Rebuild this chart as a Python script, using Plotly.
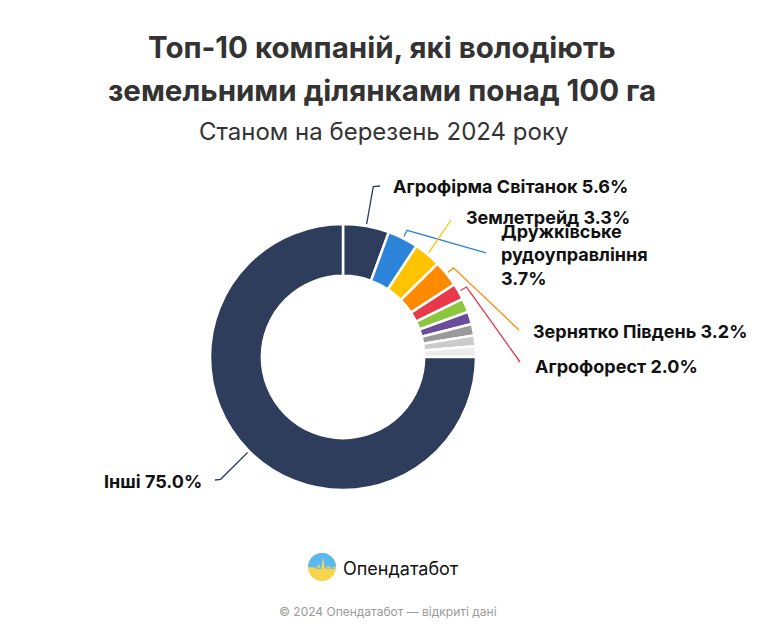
import math
import plotly.graph_objects as go

# the page body adds an 8px margin, so the figure is drawn 8px in from the corner
OFF = 8
W, H = 764 - 2 * OFF, 637 - 2 * OFF

# data
companies = ["Агрофірма Світанок", "Дружківське рудоуправління", "Землетрейд",
             "Зернятко Південь", "Агрофорест", "Компанія 6", "Компанія 7",
             "Компанія 8", "Компанія 9", "Компанія 10", "Інші"]
shares = [5.6, 3.7, 3.3, 3.2, 2.0, 1.7, 1.5, 1.4, 1.3, 1.3, 75.0]
colors = ["#2e3d5c", "#2b84da", "#ffc300", "#ff8a00", "#e8384a", "#8cc63f",
          "#6b4c9a", "#9a9a9a", "#cbcbcb", "#ececec", "#2e3d5c"]

# label layout: index, text, elbow length, end point px, text pos px, anchor
labels = [
    (0, "Агрофірма Світанок 5.6%", 38, (380, 186), (391, 187), "left"),
    (1, "Дружківське<br>рудоуправління<br>3.7%", 7, (486, 253), (499, 255), "left"),
    (2, "Землетрейд 3.3%", 0, (451, 220), (464, 218), "left"),
    (3, "Зернятко Південь 3.2%", 7, (519, 330), (531, 331), "left"),
    (4, "Агрофорест 2.0%", 7, (520, 362), (533, 366), "left"),
    (10, "Інші 75.0%", 38, (215, 480), (204, 481), "right"),
]

CX, CY, R = 343, 357, 133
HOLE = 0.61
FONT = "Inter"


def px(x):
    return (x - OFF) / W


def py(y):
    return 1 - (y - OFF) / H


fig = go.Figure(go.Pie(
    labels=companies, values=shares, sort=False, direction="clockwise",
    rotation=0, hole=HOLE, textinfo="none", hoverinfo="label+percent",
    marker=dict(colors=colors, line=dict(color="white", width=2.5)),
    domain=dict(x=[px(CX - R), px(CX + R)], y=[py(CY + R), py(CY - R)]),
    showlegend=False,
))

total = sum(shares)
starts = []
acc = 0
for v in shares:
    starts.append(acc)
    acc += v

shapes = []
annotations = []
for idx, text, elb, end, tpos, anchor in labels:
    mid = (starts[idx] + shares[idx] / 2) / total * 2 * math.pi
    dx, dy = math.sin(mid), -math.cos(mid)
    sx, sy = CX + (R + 2) * dx, CY + (R + 2) * dy
    ex, ey = sx + elb * dx, sy + elb * dy
    pts = [(sx, sy)]
    if elb:
        pts.append((ex, ey))
    pts.append(end)
    path = "M " + " L ".join(f"{px(a):.5f},{py(b):.5f}" for a, b in pts)
    shapes.append(dict(type="path", xref="paper", yref="paper", path=path,
                       line=dict(color=colors[idx], width=1.3)))
    annotations.append(dict(x=px(tpos[0]), y=py(tpos[1]), xref="paper", yref="paper",
                            text=f"<b>{text}</b>", showarrow=False, xanchor=anchor,
                            yanchor="middle", align="left",
                            font=dict(family=FONT, size=18, color="#111111")))

# title and subtitle
for txt, y in [("Топ-10 компаній, які володіють", 47), ("земельними ділянками понад 100 га", 90)]:
    annotations.append(dict(x=px(382), y=py(y), xref="paper", yref="paper", showarrow=False,
                            text=f"<b>{txt}</b>", xanchor="center", yanchor="middle",
                            font=dict(family=FONT, size=29.5, color="#333333")))
annotations.append(dict(x=px(383), y=py(131), xref="paper", yref="paper", showarrow=False,
                        text="Станом на березень 2024 року", xanchor="center", yanchor="middle",
                        font=dict(family=FONT, size=24, color="#333333")))

# logo + footer
lx, ly, lr = 322, 567, 14
shapes.append(dict(type="circle", xref="paper", yref="paper",
                   x0=px(lx - lr), x1=px(lx + lr), y0=py(ly + lr), y1=py(ly - lr),
                   fillcolor="#f8d44e", line=dict(width=0)))
top = [(lx + lr * math.cos(a * math.pi / 24), ly - lr * math.sin(a * math.pi / 24)) for a in range(25)]
wave = [(lx - lr, ly + 2), (lx - 6, ly + 2), (lx - 3, ly - 3), (lx - 1, ly + 4),
        (lx + 1, ly - 10), (lx + 3, ly + 2), (lx + 6, ly - 1), (lx + lr, ly + 2)]
pts = top + wave[::-1][:-1]
logo_path = "M " + " L ".join(f"{px(a):.5f},{py(b):.5f}" for a, b in pts) + " Z"
shapes.append(dict(type="path", xref="paper", yref="paper", path=logo_path,
                   fillcolor="#5bb9f2", line=dict(width=0)))
annotations.append(dict(x=px(341), y=py(568), xref="paper", yref="paper", showarrow=False,
                        text="Опендатабот", xanchor="left", yanchor="middle",
                        font=dict(family=FONT, size=18, color="#111111")))
annotations.append(dict(x=px(388), y=py(611), xref="paper", yref="paper", showarrow=False,
                        text="© 2024 Опендатабот — відкриті дані", xanchor="center", yanchor="middle",
                        font=dict(family=FONT, size=12, color="#9a9a9a")))

fig.update_layout(width=W, height=H, margin=dict(l=0, r=0, t=0, b=0),
                  paper_bgcolor="white", plot_bgcolor="white",
                  shapes=shapes, annotations=annotations)

fig.write_html("out.html")
